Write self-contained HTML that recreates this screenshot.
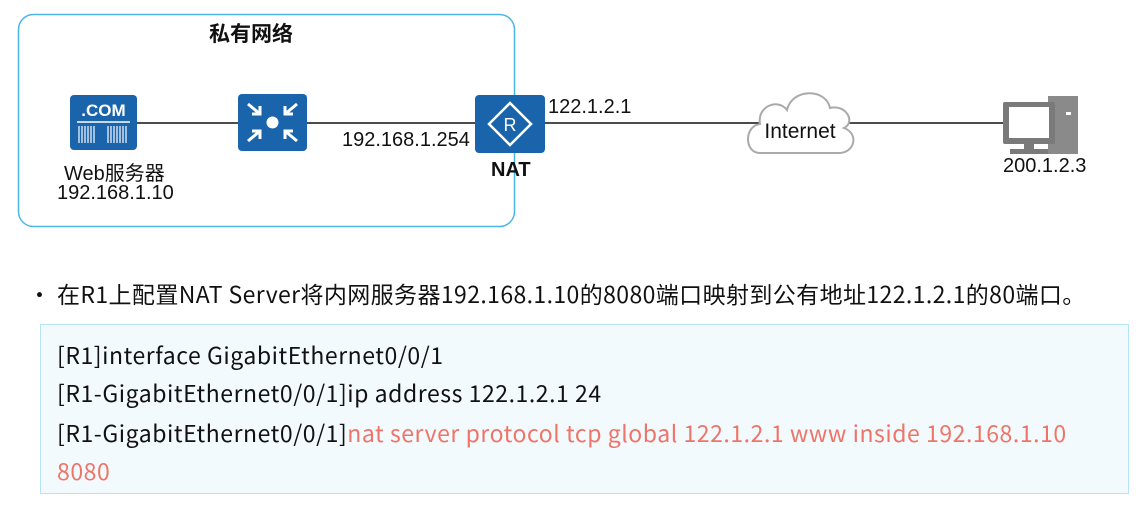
<!DOCTYPE html>
<html><head><meta charset="utf-8"><style>
body{margin:0;width:1147px;height:506px;background:#fff;position:relative;overflow:hidden;font-family:"Liberation Sans","Noto Sans CJK SC",sans-serif;color:#111}
.a{position:absolute;white-space:nowrap}
.code{position:absolute;left:40px;top:324px;width:1089px;height:170px;background:#f3fafd;border:1px solid #b6e3f5;box-sizing:border-box}
.c{position:absolute;left:16px;font-size:23px;letter-spacing:0.55px;font-family:"Noto Sans CJK SC",sans-serif;white-space:nowrap}
.r{color:#ee7468}
</style></head><body>
<svg width="1147" height="240" style="position:absolute;left:0;top:0">
<rect x="18.5" y="14.5" width="496" height="212" rx="15" fill="none" stroke="#4ab6e6" stroke-width="1.5"/>
<line x1="135" y1="123" x2="1005" y2="123" stroke="#111" stroke-width="1.5"/>
<rect x="70" y="95" width="67" height="55" rx="4" fill="#1a64ac"/>
<text x="103.5" y="116" font-size="17" font-weight="bold" fill="#fff" text-anchor="middle" font-family="Liberation Sans">.COM</text>
<line x1="77" y1="122" x2="130" y2="122" stroke="#fff" stroke-width="1.5"/>
<g stroke="#fff" stroke-width="1.2">
<line x1="79" y1="126" x2="79" y2="143"/><line x1="82" y1="126" x2="82" y2="143"/><line x1="85" y1="126" x2="85" y2="143"/><line x1="88" y1="126" x2="88" y2="143"/><line x1="91" y1="126" x2="91" y2="143"/><line x1="94" y1="126" x2="94" y2="143"/>
<line x1="108" y1="126" x2="108" y2="143"/><line x1="111" y1="126" x2="111" y2="143"/><line x1="114" y1="126" x2="114" y2="143"/><line x1="117" y1="126" x2="117" y2="143"/><line x1="120" y1="126" x2="120" y2="143"/><line x1="123" y1="126" x2="123" y2="143"/><line x1="126" y1="126" x2="126" y2="143"/>
</g>
<rect x="238" y="94" width="69" height="57" rx="4" fill="#1a64ac"/>
<circle cx="272.5" cy="122.5" r="6" fill="#fff"/>
<g stroke="#fff" stroke-width="3" fill="none">
<path d="M248 104 L260 114 M252 114 L260 114 L260 106"/>
<path d="M297 104 L285 114 M293 114 L285 114 L285 106"/>
<path d="M248 141 L260 131 M252 131 L260 131 L260 139"/>
<path d="M297 141 L285 131 M293 131 L285 131 L285 139"/>
</g>
<rect x="475" y="95" width="70" height="58" rx="4" fill="#1a64ac"/>
<path d="M510 103 L531 124 L510 145 L489 124 Z" fill="none" stroke="#fff" stroke-width="2.5"/>
<text x="510" y="131" font-size="18" fill="#fff" text-anchor="middle" font-family="Liberation Sans">R</text>
<path d="M760 153 C744 153 744 126 760 124 C757 106 778 98 787 110 C792 88 826 88 830 108 C846 104 856 122 844 128 C860 134 854 154 838 153 Z" fill="#fff" stroke="#aaa" stroke-width="2"/>
<text x="800" y="138" font-size="21" text-anchor="middle" font-family="Liberation Sans" fill="#111">Internet</text>
<rect x="1048" y="96" width="30" height="58" fill="#8a8a8a"/>
<rect x="1066" y="112" width="5" height="3" fill="#fff"/>
<rect x="1003" y="102" width="52" height="42" rx="2" fill="#7a7a7a"/>
<rect x="1009" y="107" width="40" height="31" fill="#fff"/>
<rect x="1024" y="144" width="10" height="6" fill="#7a7a7a"/>
<rect x="1010" y="149" width="38" height="5" fill="#7a7a7a"/>
</svg>
<div class="a" style="left:209px;top:18px;font-size:21px;font-weight:bold">私有网络</div>
<div class="a" style="left:64px;top:157px;font-size:20px">Web服务器</div>
<div class="a" style="left:57px;top:182px;font-size:20px">192.168.1.10</div>
<div class="a" style="left:342px;top:129px;font-size:20px">192.168.1.254</div>
<div class="a" style="left:491px;top:159px;font-size:20px;font-weight:bold">NAT</div>
<div class="a" style="left:548px;top:96px;font-size:20px">122.1.2.1</div>
<div class="a" style="left:1003px;top:155px;font-size:20px">200.1.2.3</div>
<div class="a" style="left:28px;top:276px;font-size:23px;letter-spacing:0.4px;font-family:'Noto Sans CJK SC',sans-serif">•&nbsp;在R1上配置NAT Server将内网服务器192.168.1.10的8080端口映射到公有地址122.1.2.1的80端口。</div>
<div class="code">
<div class="c" style="top:12px">[R1]interface GigabitEthernet0/0/1</div>
<div class="c" style="top:50px">[R1-GigabitEthernet0/0/1]ip address 122.1.2.1 24</div>
<div class="c" style="top:90px">[R1-GigabitEthernet0/0/1]<span class="r">nat server protocol tcp global 122.1.2.1 www inside 192.168.1.10</span></div>
<div class="c r" style="top:128px">8080</div>
</div>
</body></html>
